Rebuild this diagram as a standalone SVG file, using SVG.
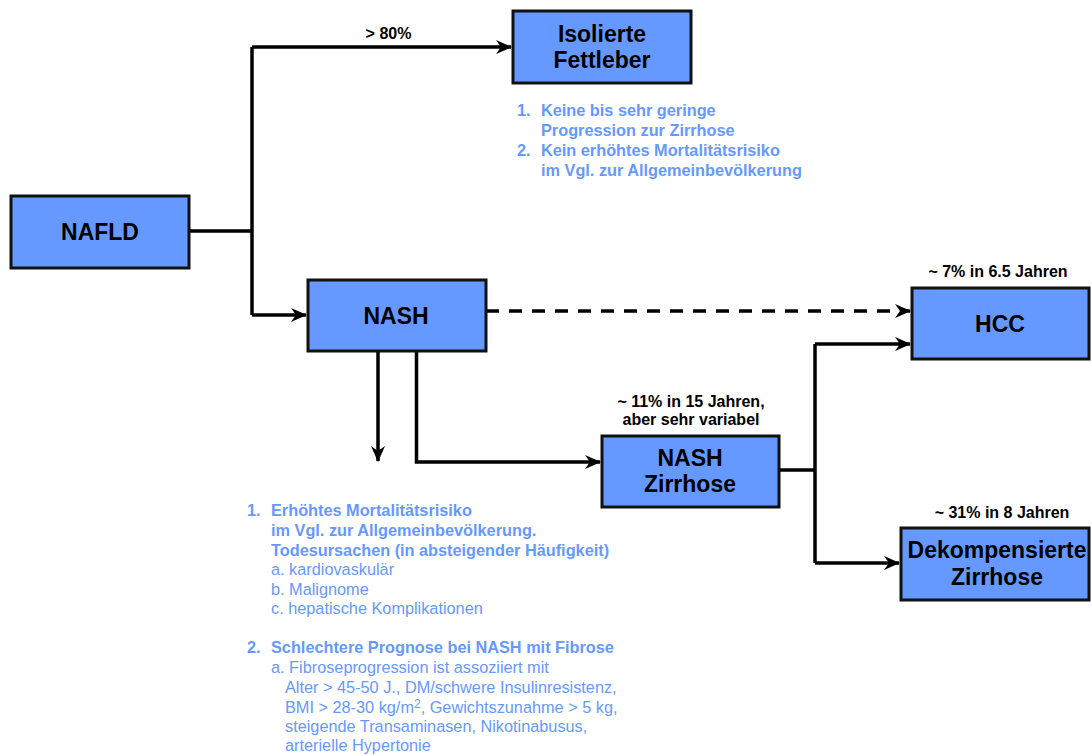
<svg xmlns="http://www.w3.org/2000/svg" width="1091" height="755" viewBox="0 0 1091 755">
<style>
.box{fill:#6699ff;stroke:#111;stroke-width:3}
.bt{font-family:"Liberation Sans",Arial,sans-serif;font-weight:bold;font-size:23px;fill:#000;text-anchor:middle}
.lbl{font-family:"Liberation Sans",Arial,sans-serif;font-weight:bold;font-size:16px;fill:#000;text-anchor:middle}
.bl{font-family:"Liberation Sans",Arial,sans-serif;font-size:16.3px;fill:#6699ff}
.b{font-weight:bold}
.ln{fill:none;stroke:#000;stroke-width:3.5}
</style>
<defs>
<marker id="ah" markerUnits="userSpaceOnUse" markerWidth="16" markerHeight="16" viewBox="0 0 16 14" refX="15" refY="7" orient="auto">
<path d="M0,0 L16,7 L0,14 L5,7 z" fill="#000"/>
</marker>
</defs>
<g id="connectors">
<path class="ln" d="M189,231 H252"/>
<path class="ln" d="M252,47 V315"/>
<path class="ln" d="M252,47 H511" marker-end="url(#ah)"/>
<path class="ln" d="M252,315 H306" marker-end="url(#ah)"/>
<path class="ln" d="M486,311 H910" stroke-dasharray="13 10" stroke-width="4" marker-end="url(#ah)"/>
<path class="ln" d="M378,351 V461" marker-end="url(#ah)"/>
<path class="ln" d="M416.5,351 V462 H600" marker-end="url(#ah)"/>
<path class="ln" d="M779,470 H815"/>
<path class="ln" d="M815,344 V563"/>
<path class="ln" d="M815,344 H910" marker-end="url(#ah)"/>
<path class="ln" d="M815,563 H899" marker-end="url(#ah)"/>
</g>
<g id="nafld">
<rect class="box" x="11" y="196" width="178" height="72"/>
<text class="bt" x="100" y="240">NAFLD</text>
</g>
<g id="fettleber">
<rect class="box" x="513" y="11" width="178" height="72"/>
<text class="bt" x="602" y="42">Isolierte</text>
<text class="bt" x="602" y="68">Fettleber</text>
</g>
<g id="nash">
<rect class="box" x="308" y="280" width="178" height="71"/>
<text class="bt" x="396" y="324">NASH</text>
</g>
<g id="hcc">
<rect class="box" x="912" y="288" width="177" height="71"/>
<text class="bt" x="1000" y="332">HCC</text>
</g>
<g id="nash-zirrhose">
<rect class="box" x="602" y="436" width="177" height="71"/>
<text class="bt" x="690" y="466">NASH</text>
<text class="bt" x="690" y="492">Zirrhose</text>
</g>
<g id="dekomp">
<rect class="box" x="901" y="528" width="188" height="72"/>
<text class="bt" x="997" y="558">Dekompensierte</text>
<text class="bt" x="997" y="585">Zirrhose</text>
</g>
<g id="labels">
<text class="lbl" x="388.5" y="39">&gt; 80%</text>
<text class="lbl" x="998" y="277">~ 7% in 6.5 Jahren</text>
<text class="lbl" x="691" y="407">~ 11% in 15 Jahren,</text>
<text class="lbl" x="691" y="425">aber sehr variabel</text>
<text class="lbl" x="1002" y="518">~ 31% in 8 Jahren</text>
</g>
<g id="notes-fettleber" class="bl b">
<text x="517" y="116">1.</text><text x="541" y="116">Keine bis sehr geringe</text>
<text x="541" y="136">Progression zur Zirrhose</text>
<text x="517" y="156">2.</text><text x="541" y="156">Kein erhöhtes Mortalitätsrisiko</text>
<text x="541" y="176">im Vgl. zur Allgemeinbevölkerung</text>
</g>
<g id="notes-nash" class="bl">
<text class="b" x="247" y="516">1.</text><text class="b" x="271" y="516">Erhöhtes Mortalitätsrisiko</text>
<text class="b" x="271" y="536">im Vgl. zur Allgemeinbevölkerung.</text>
<text class="b" x="271" y="556">Todesursachen (in absteigender Häufigkeit)</text>
<text x="271" y="575">a. kardiovaskulär</text>
<text x="271" y="594.5">b. Malignome</text>
<text x="271" y="614">c. hepatische Komplikationen</text>
<text class="b" x="247" y="653">2.</text><text class="b" x="271" y="653">Schlechtere Prognose bei NASH mit Fibrose</text>
<text x="271" y="673">a. Fibroseprogression ist assoziiert mit</text>
<text x="285" y="693">Alter &gt; 45-50 J., DM/schwere Insulinresistenz,</text>
<text x="285" y="713">BMI &gt; 28-30 kg/m<tspan font-size="12" dy="-5">2</tspan><tspan dy="5">, Gewichtszunahme &gt; 5 kg,</tspan></text>
<text x="285" y="732">steigende Transaminasen, Nikotinabusus,</text>
<text x="285" y="751">arterielle Hypertonie</text>
</g>
</svg>
